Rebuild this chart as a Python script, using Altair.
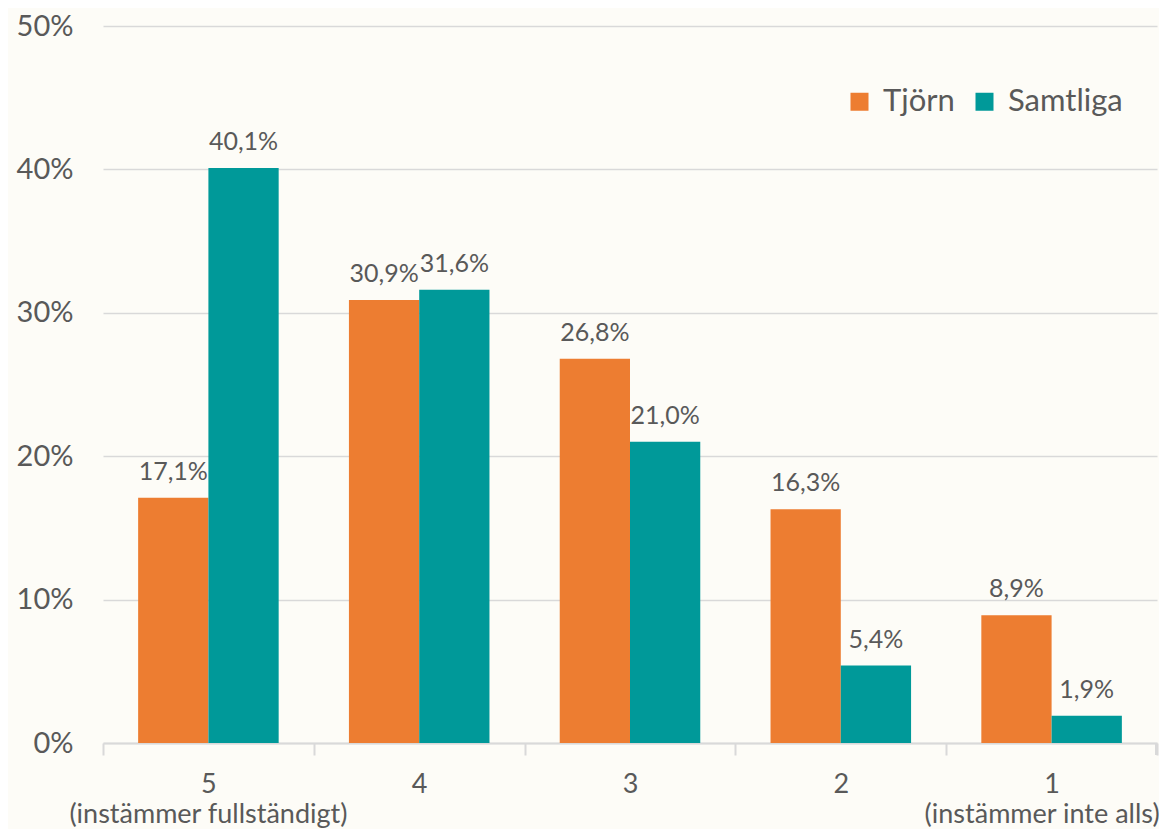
import altair as alt
import pandas as pd

categories = ["5", "4", "3", "2", "1"]
sublabels = ["(instämmer fullständigt)", "", "", "", "(instämmer inte alls)"]
series = ["Tjörn", "Samtliga"]
tjorn = [17.1, 30.9, 26.8, 16.3, 8.9]
samtliga = [40.1, 31.6, 21.0, 5.4, 1.9]

rows = []
for i, c in enumerate(categories):
    rows.append({"cat": c, "series": series[0], "value": tjorn[i]})
    rows.append({"cat": c, "series": series[1], "value": samtliga[i]})
df = pd.DataFrame(rows)
subdf = pd.DataFrame({"cat": categories, "sub": sublabels})

FONT = "Lato"
TXT = "#595959"
W, H = 1054, 717

x = alt.X("cat:N", sort=categories, title=None,
          scale=alt.Scale(paddingInner=0, paddingOuter=0),
          axis=alt.Axis(labelAngle=0,
                        labelFont=FONT, labelFontSize=27, labelColor=TXT,
                        labelPadding=16,
                        tickSize=12, tickColor="#D9D9D9", tickWidth=2,
                        tickBand="extent", domainColor="#D9D9D9", domainWidth=2,
                        grid=False))
y = alt.Y("value:Q", title=None,
          scale=alt.Scale(domain=[0, 50]),
          axis=alt.Axis(values=[0, 10, 20, 30, 40, 50], labelExpr="datum.value + '%'",
                        labelFont=FONT, labelFontSize=29, labelColor=TXT,
                        labelPadding=30, ticks=False, domain=False,
                        gridColor="#D9D9D9", gridWidth=1.5))
xo = alt.XOffset("series:N", sort=series,
                 scale=alt.Scale(paddingInner=0, paddingOuter=0.5))
color = alt.Color("series:N", sort=series,
                  scale=alt.Scale(domain=series, range=["#ED7D31", "#009999"]),
                  legend=alt.Legend(title=None, orient="none", direction="horizontal",
                                    legendX=741, legendY=60,
                                    labelFont=FONT, labelFontSize=31, labelColor=TXT,
                                    symbolType="square", symbolSize=324,
                                    symbolStrokeWidth=0, labelOffset=8,
                                    columnPadding=14))

base = alt.Chart(df)
bars = base.mark_bar().encode(x=x, y=y, xOffset=xo, color=color)
labels = base.transform_calculate(
    lbl="replace(format(datum.value, '.1f'), '.', ',') + '%'"
).mark_text(font=FONT, fontSize=25, color=TXT, baseline="bottom", dy=-13).encode(
    x=alt.X("cat:N", sort=categories), y="value:Q", xOffset=xo, text="lbl:N")

sub_first = alt.Chart(subdf).transform_filter(
    alt.datum.cat == categories[0]
).mark_text(font=FONT, fontSize=27, color=TXT, align="center", baseline="middle").encode(
    x=alt.X("cat:N", sort=categories), y=alt.value(H + 72), text="sub:N")
sub_last = alt.Chart(subdf).transform_filter(
    alt.datum.cat == categories[-1]
).mark_text(font=FONT, fontSize=27, color=TXT, align="right", baseline="middle", dx=108).encode(
    x=alt.X("cat:N", sort=categories), y=alt.value(H + 72), text="sub:N")

endtick = alt.Chart(df).mark_rule(color="#D9D9D9", strokeWidth=2).encode(
    x=alt.value(W - 1), y=alt.value(H), y2=alt.value(H + 12))

chart = alt.layer(bars, labels, sub_first, sub_last, endtick).properties(
    width=W, height=H,
    background="#FDFCF7",
    padding={"left": 95, "top": 18, "right": 2, "bottom": 86},
    autosize=alt.AutoSizeParams(type="none"),
).configure_view(stroke=None)

chart.save("out.html", embed_options={"renderer": "svg", "actions": False})
